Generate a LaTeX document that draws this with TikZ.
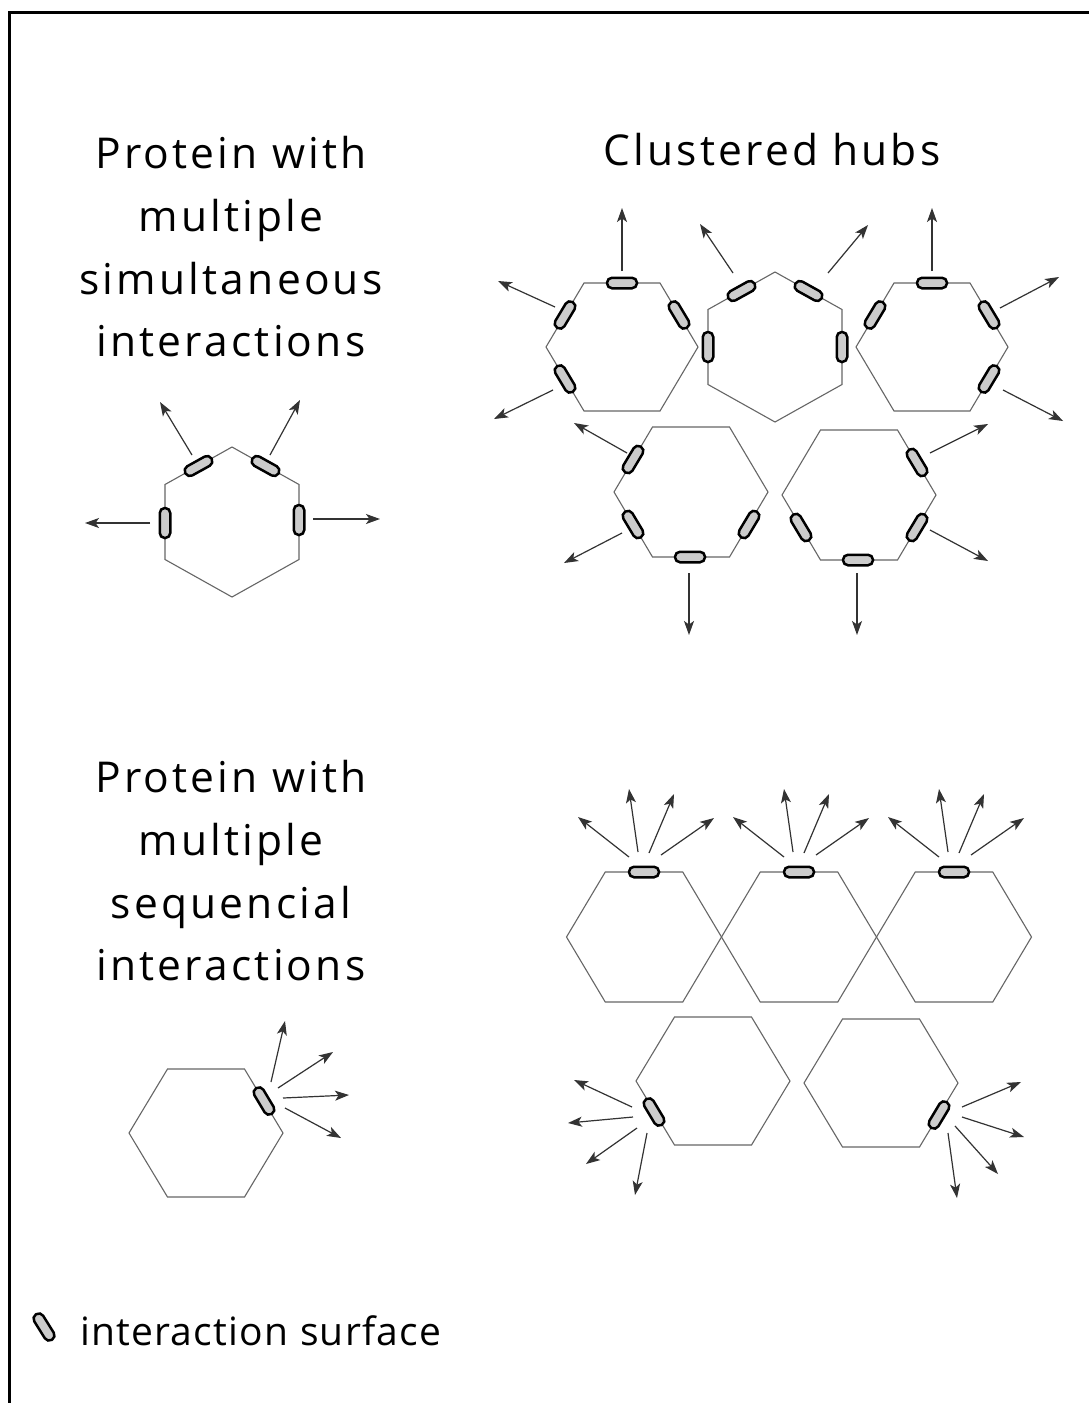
\documentclass[tikz,border=0pt]{standalone}
\usepackage{fontspec}
\setmainfont{Open Sans}[LetterSpace=7.5]
\newfontfamily\legendfont{Open Sans}[LetterSpace=3.2]
\usetikzlibrary{arrows.meta}
\newcommand\flathex[4]{\draw[hexline] ({#1-#3},#2) -- ({#1-#3/2},{#2-#4}) -- ({#1+#3/2},{#2-#4}) -- ({#1+#3},#2) -- ({#1+#3/2},{#2+#4}) -- ({#1-#3/2},{#2+#4}) -- cycle;}
\newcommand\pointyhex[4]{\draw[hexline] (#1,{#2-#4}) -- ({#1+#3},{#2-#4/2}) -- ({#1+#3},{#2+#4/2}) -- (#1,{#2+#4}) -- ({#1-#3},{#2+#4/2}) -- ({#1-#3},{#2-#4/2}) -- cycle;}
\begin{document}
\begin{tikzpicture}[x=1pt,y=-1pt,
  hexline/.style={draw=black!60, line width=1.1pt, line join=miter},
  arr/.style={draw=black!80, line width=1.2pt, -{Stealth[length=14pt,width=10pt,inset=3.5pt]}},
  pill/.style={shape=rectangle, draw=black, fill=black!20, line width=2.5pt, rounded corners=5pt, minimum width=30pt, minimum height=10.5pt, inner sep=0pt},
  title/.style={font=\fontsize{42.5}{50}\selectfont, anchor=base, inner sep=0pt},
]
\useasboundingbox (0,0) rectangle (1089,1403);
\fill[white] (0,0) rectangle (1089,1403);
% frame
\draw[line width=3pt, line join=miter] (9,1403) -- (9,12.5) -- (1089,12.5);

% titles
\node[title] (t1a) at (231,168) {Protein with};
\node[title] (t1b) at (231,231) {multiple};
\node[title] (t1c) at (231,294) {simultaneous};
\node[title] (t1d) at (231,356) {interactions};
\node[title] (t2)  at (772,165) {Clustered hubs};
\node[title] (t3a) at (231,792) {Protein with};
\node[title] (t3b) at (231,855) {multiple};
\node[title] (t3c) at (231,918) {sequencial};
\node[title] (t3d) at (231,980) {interactions};

% ---- single protein, simultaneous
\pointyhex{232}{522}{67}{75}
\node[pill, rotate=29]  (s1ul) at (198.5,466) {};
\node[pill, rotate=-29] (s1ur) at (265.5,466) {};
\node[pill, rotate=90]  (s1l)  at (165,523) {};
\node[pill, rotate=90]  (s1r)  at (299,520) {};
\draw[arr] (192,455) -- (160,402);
\draw[arr] (270,455) -- (300,400);
\draw[arr] (150,523) -- (85,523);
\draw[arr] (313,519) -- (380,519);

% ---- clustered hubs
\flathex{622}{347}{76}{64}
\pointyhex{775}{347}{67}{75}
\flathex{932}{347}{76}{64}
\flathex{691}{492}{77}{65}
\flathex{859}{495}{77}{65}
% A
\node[pill] (a1) at (622,283) {};
\node[pill, rotate=59]  (a2) at (565,315) {};
\node[pill, rotate=-59] (a3) at (679,315) {};
\node[pill, rotate=-59] (a4) at (565,379) {};
\draw[arr] (622,271) -- (622,208);
\draw[arr] (555,307) -- (498,281);
\draw[arr] (553,390) -- (494,419);
% B
\node[pill, rotate=29]  (b1) at (741.5,291) {};
\node[pill, rotate=-29] (b2) at (808.5,291) {};
\node[pill, rotate=90]  (b3) at (708,347) {};
\node[pill, rotate=90]  (b4) at (842,347) {};
\draw[arr] (733,273) -- (700,224);
\draw[arr] (828,273) -- (868,225);
% C
\node[pill] (c1) at (932,283) {};
\node[pill, rotate=59]  (c2) at (875,315) {};
\node[pill, rotate=-59] (c3) at (989,315) {};
\node[pill, rotate=59]  (c4) at (989,379) {};
\draw[arr] (932,271) -- (932,208);
\draw[arr] (1000,308) -- (1059,277);
\draw[arr] (1003,390) -- (1063,421);
% D
\node[pill, rotate=59]  (d1) at (633,459.5) {};
\node[pill, rotate=-59] (d2) at (633,524.5) {};
\node[pill]             (d3) at (690,557) {};
\node[pill, rotate=59]  (d4) at (749,524.5) {};
\draw[arr] (627,453) -- (574,423);
\draw[arr] (622,533) -- (564,563);
\draw[arr] (689,573) -- (689,635);
% E
\node[pill, rotate=-59] (e1) at (917,462.5) {};
\node[pill, rotate=59]  (e2) at (917,527.5) {};
\node[pill]             (e3) at (858,560) {};
\node[pill, rotate=-59] (e4) at (801,527.5) {};
\draw[arr] (930,453) -- (988,424);
\draw[arr] (930,530) -- (988,561);
\draw[arr] (857,573) -- (857,635);

% ---- sequential hubs
\flathex{644}{937}{77.5}{65}
\flathex{799}{937}{77.5}{65}
\flathex{954}{937}{77.5}{65}
\foreach \px/\nm in {644/f,799/g,954/h}{
  \node[pill] (\nm) at (\px,872) {};
  \draw[arr] (\px-15,857) -- (\px-66,817);
  \draw[arr] (\px-6,852) -- (\px-15,789);
  \draw[arr] (\px+5,853) -- (\px+30,794);
  \draw[arr] (\px+17,855) -- (\px+70,818);
}
\flathex{713}{1081}{77}{64}
\flathex{881}{1083}{77}{64}
\node[pill, rotate=-59] (i1) at (654,1112) {};
\node[pill, rotate=59]  (j1) at (939,1115) {};
\draw[arr] (632,1107) -- (574,1080);
\draw[arr] (633,1117) -- (568,1123);
\draw[arr] (637,1128) -- (586,1164);
\draw[arr] (647,1133) -- (635,1195);
\draw[arr] (962,1107) -- (1021,1082);
\draw[arr] (962,1117) -- (1024,1137);
\draw[arr] (955,1126) -- (998,1174);
\draw[arr] (948,1133) -- (957,1198);

% ---- single protein, sequential
\flathex{206}{1133}{77}{64}
\node[pill, rotate=-59] (k1) at (264,1101) {};
\draw[arr] (271,1082) -- (285,1021);
\draw[arr] (278,1088) -- (333,1052);
\draw[arr] (283,1098) -- (349,1095);
\draw[arr] (285,1108) -- (341,1138);

% ---- legend
\node[pill, rotate=-58] (leg) at (44,1327) {};
\node[anchor=base west, inner sep=0pt, font=\legendfont\fontsize{39}{45}\selectfont] (legtext) at (80,1345) {interaction surface};
\end{tikzpicture}
\end{document}
